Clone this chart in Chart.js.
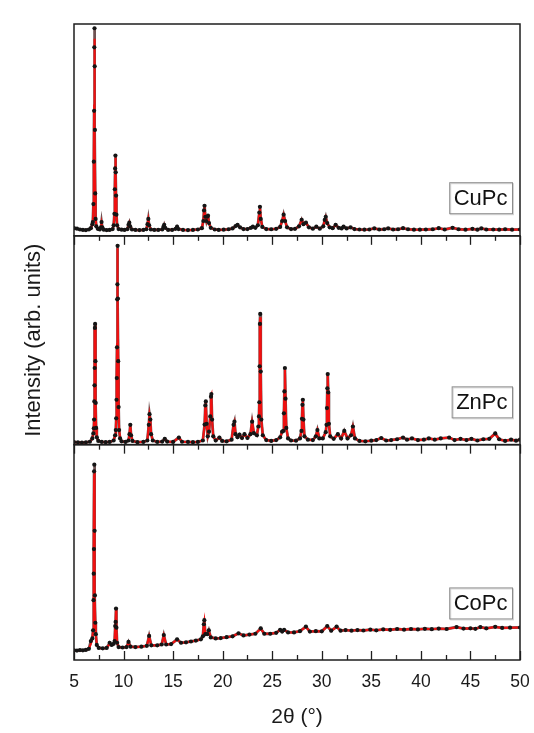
<!DOCTYPE html>
<html>
<head>
<meta charset="utf-8">
<script src="https://cdn.jsdelivr.net/npm/chart.js@4.4.1/dist/chart.umd.min.js"></script>
<style>
  html, body { margin: 0; padding: 0; background: #fff; }
  #wrap { width: 534px; height: 733px; }
</style>
</head>
<body>
<div id="wrap"><canvas id="xrd-chart" width="534" height="733"></canvas></div>
<script>
// 2theta axis
const X_MIN = 5
const X_MAX = 50
const xTickLabels = [5, 10, 15, 20, 25, 30, 35, 40, 45, 50]
const xTickMarks = [5, 7.5, 10, 12.5, 15, 17.5, 20, 22.5, 25, 27.5, 30, 32.5, 35, 37.5, 40, 42.5, 45, 47.5, 50]

const panelNames = ['CuPc', 'ZnPc', 'CoPc']

// CuPc
const cuTheta = [5.0, 5.3, 5.6, 5.9, 6.2, 6.5, 6.7, 6.85, 6.9, 6.96, 7.0, 7.03, 7.05, 7.07, 7.09, 7.11, 7.14, 7.18, 7.25, 7.4,
  7.6, 7.72, 7.78, 7.85, 8.0, 8.3, 8.6, 8.9, 9.0, 9.08, 9.12, 9.15, 9.18, 9.21, 9.24, 9.28, 9.35, 9.5, 9.8, 10.1,
  10.4, 10.5, 10.58, 10.66, 10.85, 11.2, 11.6, 12.0, 12.3, 12.42, 12.5, 12.58, 12.75, 13.1, 13.5, 13.9, 14.02, 14.1, 14.2, 14.5,
  14.9, 15.25, 15.4, 15.55, 16.0, 16.5, 17.0, 17.5, 17.9, 18.05, 18.12, 18.17, 18.25, 18.35, 18.45, 18.52, 18.62, 18.8, 19.2, 19.6,
  20.1, 20.6, 21.0, 21.3, 21.5, 21.75, 22.1, 22.5, 22.85, 23.05, 23.3, 23.55, 23.7, 23.76, 23.84, 24.0, 24.4, 24.9, 25.4, 25.8,
  26.0, 26.15, 26.3, 26.5, 26.9, 27.3, 27.7, 27.97, 28.15, 28.4, 28.7, 29.1, 29.45, 29.8, 30.15, 30.3, 30.4, 30.55, 30.8, 31.1,
  31.4, 31.7, 32.0, 32.2, 32.5, 32.9, 33.3, 33.8, 34.3, 34.8, 35.3, 35.8, 36.3, 36.7, 37.2, 37.7, 38.2, 38.7, 39.3, 39.9,
  40.5, 41.2, 41.8, 42.4, 43.2, 43.8, 44.5, 45.2, 45.7, 46.1, 46.6, 47.3, 47.9, 48.5, 49.2, 50.0]
const cuObs = [3.6, 3.4, 3.0, 2.8, 2.7, 3.0, 3.6, 5.5, 6.5, 15, 35, 59, 89, 98, 80, 50, 20, 8, 4.5, 3.3,
  3.0, 4.0, 6.5, 4.0, 2.9, 2.7, 2.8, 3.2, 5, 10.4, 22, 31.8, 37.9, 30, 19, 10, 5, 3.2, 2.9, 2.8,
  3.2, 5.2, 6.2, 4.5, 3.0, 2.8, 2.7, 2.8, 3.1, 5.5, 8, 5, 3.0, 2.8, 2.8, 3.0, 4.2, 5.2, 3.8, 2.8,
  2.8, 3.3, 4.3, 3.2, 2.8, 2.7, 2.8, 3.0, 3.6, 7, 12, 14.2, 9, 7, 9, 9.5, 6, 3.8, 3.0, 2.8,
  2.9, 3.1, 3.5, 4.6, 5.2, 4.0, 3.2, 3.2, 3.8, 4.3, 3.8, 5.0, 11, 13.7, 8, 4.2, 3.2, 3.1, 3.3, 4.2,
  7, 10, 7, 4.0, 3.2, 3.3, 4.5, 7.6, 5.5, 6.2, 4.0, 3.4, 4.3, 3.4, 4.5, 7.5, 9, 6, 4.0, 3.6,
  5.2, 3.8, 3.5, 4.3, 3.5, 4.0, 3.2, 3.0, 2.9, 3.0, 3.5, 3.0, 3.1, 3.5, 3.0, 3.1, 3.6, 3.1, 2.9, 2.9,
  3.0, 3.1, 3.6, 3.0, 3.8, 3.1, 2.9, 3.3, 2.9, 3.5, 3.0, 3.0, 2.9, 3.1, 2.9, 3.0]
const cuCalc = [3.5, 3.3, 3.0, 2.8, 2.7, 3.0, 3.6, 5.3, 6.2, 14, 36, 62, 88, 93, 82, 48, 21, 9, 4.6, 3.2,
  3.0, 4.0, 6.0, 4.0, 2.9, 2.7, 2.8, 3.2, 5, 10, 21, 33, 37, 31, 19.5, 10, 5.2, 3.2, 2.9, 2.8,
  3.2, 5.0, 6.1, 4.6, 3.0, 2.8, 2.7, 2.8, 3.1, 5.5, 7.8, 5.2, 3.0, 2.8, 2.8, 3.0, 4.2, 5.1, 3.8, 2.8,
  2.8, 3.3, 4.2, 3.2, 2.8, 2.7, 2.8, 3.0, 3.6, 7, 11.5, 14, 9.5, 7.2, 9.3, 9.6, 6, 3.8, 3.0, 2.8,
  2.9, 3.1, 3.5, 4.6, 5.2, 4.0, 3.2, 3.2, 3.8, 4.3, 3.8, 5.0, 11, 13.3, 8.5, 4.2, 3.2, 3.1, 3.3, 4.2,
  7, 9.8, 7, 4.0, 3.2, 3.3, 4.5, 7.5, 5.6, 6.1, 4.0, 3.4, 4.3, 3.4, 4.5, 7.5, 8.8, 6.1, 4.0, 3.6,
  5.1, 3.8, 3.5, 4.3, 3.5, 4.0, 3.2, 3.0, 2.9, 3.0, 3.5, 3.0, 3.1, 3.5, 3.0, 3.1, 3.6, 3.1, 2.9, 2.9,
  3.0, 3.1, 3.6, 3.0, 3.8, 3.1, 2.9, 3.3, 2.9, 3.5, 3.0, 3.0, 2.9, 3.1, 2.9, 3.0]

// ZnPc
const znTheta = [5.0, 5.4, 5.8, 6.2, 6.6, 6.85, 6.95, 7.0, 7.03, 7.05, 7.07, 7.09, 7.11, 7.13, 7.16, 7.19, 7.23, 7.3, 7.45, 7.8,
  8.2, 8.6, 9.0, 9.15, 9.22, 9.26, 9.29, 9.32, 9.34, 9.36, 9.38, 9.40, 9.43, 9.46, 9.5, 9.55, 9.65, 9.8, 10.2, 10.5,
  10.6, 10.68, 10.76, 10.9, 11.4, 12.0, 12.4, 12.55, 12.62, 12.7, 12.78, 12.95, 13.4, 13.9, 14.16, 14.4, 15.0, 15.58, 15.9, 16.5,
  17.0, 17.5, 18.0, 18.18, 18.25, 18.3, 18.38, 18.5, 18.62, 18.75, 18.82, 18.86, 18.93, 19.05, 19.3, 19.67, 19.95, 20.4, 20.9, 21.1,
  21.19, 21.3, 21.5, 21.7, 21.95, 22.2, 22.5, 22.8, 22.97, 23.15, 23.45, 23.6, 23.66, 23.7, 23.73, 23.76, 23.79, 23.84, 23.9, 24.05,
  24.4, 24.9, 25.4, 25.8, 26.0, 26.12, 26.18, 26.23, 26.28, 26.34, 26.42, 26.6, 26.9, 27.4, 27.8, 27.95, 28.0, 28.05, 28.09, 28.15,
  28.25, 28.6, 29.1, 29.4, 29.56, 29.75, 30.1, 30.4, 30.48, 30.52, 30.56, 30.6, 30.65, 30.72, 30.85, 31.2, 31.62, 31.95, 32.27, 32.6,
  32.95, 33.14, 33.35, 33.8, 34.4, 35.0, 35.5, 36.0, 36.5, 37.0, 37.6, 38.2, 38.6, 39.1, 39.7, 40.3, 40.8, 41.4, 42.0, 42.85,
  43.4, 44.0, 44.6, 45.1, 45.7, 46.3, 46.9, 47.5, 47.9, 48.5, 49.1, 49.6, 50.0]
const znObs = [1.2, 1.1, 1.0, 1.1, 1.4, 3, 5.4, 7.8, 12, 20.7, 28.4, 36.7, 55.9, 57.8, 40, 20, 8, 3.5, 1.8, 1.3,
  1.2, 1.3, 2.0, 4.5, 7, 12.6, 21.5, 31.9, 46.6, 69.6, 76.8, 95.2, 70, 40, 18, 7, 3, 1.6, 1.3, 2,
  5, 9.5, 4.5, 1.8, 1.2, 1.3, 2, 9.5, 14.6, 12, 5, 2, 1.3, 1.5, 2.8, 1.5, 1.3, 3.4, 1.4, 1.3,
  1.2, 1.3, 2, 9.6, 18.8, 20.7, 10, 4, 6.2, 13.5, 23, 24.2, 12, 4, 2, 3.4, 1.8, 1.6, 2.4, 9.5,
  11, 5, 3.6, 4.8, 3.2, 5, 3.2, 5, 11, 5.5, 4.5, 8.7, 13.5, 20.3, 37.5, 57.8, 62.6, 35, 12, 4.5,
  2.2, 1.8, 2.2, 3.5, 6.2, 6.6, 15, 25.5, 36.7, 22, 8, 3, 2, 1.9, 3, 6.6, 12.4, 19.1, 21.5, 12,
  4, 2.4, 2.2, 4, 7, 3, 3, 6, 9.5, 17.5, 27, 33.8, 25, 10, 4, 2.8, 5, 3, 6.6, 3,
  4.5, 8.7, 3, 1.8, 1.6, 1.9, 2.2, 3.2, 2.0, 2.2, 2.6, 3.4, 2.4, 3.0, 2.2, 2.4, 3.0, 2.4, 3.0, 3.4,
  2.2, 2.8, 2.2, 2.8, 2.0, 2.6, 2.8, 5.4, 2.6, 1.8, 2.4, 1.9, 2.4]
const znCalc = [1.2, 1.1, 1.0, 1.1, 1.4, 3, 5.6, 8, 12.5, 21, 30, 38, 55, 57, 41, 21, 8.5, 3.6, 1.8, 1.3,
  1.2, 1.3, 2.0, 4.5, 7.5, 13, 22, 33, 48, 70, 80, 94, 72, 41, 18, 7.4, 3.2, 1.6, 1.3, 2,
  5, 9.3, 4.6, 1.8, 1.2, 1.3, 2, 9.6, 14.2, 12, 5.2, 2, 1.3, 1.5, 2.7, 1.5, 1.3, 3.3, 1.4, 1.3,
  1.2, 1.3, 2, 9.5, 18.5, 20.5, 10.2, 4, 6, 13.5, 23.5, 24, 12, 4, 2, 3.3, 1.8, 1.6, 2.4, 9.4,
  10.8, 5.1, 3.6, 4.7, 3.2, 4.9, 3.2, 5, 10.8, 5.6, 4.5, 8.8, 13.5, 20.5, 38, 57, 61, 36, 12, 4.5,
  2.2, 1.8, 2.2, 3.5, 6.2, 6.6, 15, 26, 36, 22, 8, 3, 2, 1.9, 3, 6.6, 12.5, 19, 21, 12,
  4, 2.4, 2.2, 4, 6.9, 3, 3, 6, 9.5, 17.5, 27, 33.5, 25, 10, 4, 2.8, 5, 3, 6.4, 3,
  4.5, 8.5, 3, 1.8, 1.6, 1.9, 2.2, 3.2, 2.0, 2.2, 2.6, 3.4, 2.4, 3.0, 2.2, 2.4, 3.0, 2.4, 3.0, 3.4,
  2.2, 2.8, 2.2, 2.8, 2.0, 2.6, 2.8, 5.2, 2.6, 1.8, 2.4, 1.9, 2.4]

// CoPc
const coTheta = [5.0, 5.3, 5.6, 5.9, 6.2, 6.5, 6.7, 6.85, 6.93, 6.97, 6.99, 7.01, 7.03, 7.05, 7.08, 7.11, 7.15, 7.2, 7.3, 7.5,
  7.9, 8.3, 8.6, 8.8, 9.0, 9.1, 9.16, 9.2, 9.24, 9.28, 9.35, 9.5, 9.9, 10.3, 10.5, 10.7, 11.2, 11.8, 12.35, 12.58,
  12.8, 13.4, 13.85, 14.06, 14.3, 14.8, 15.4, 15.8, 16.3, 16.8, 17.3, 17.8, 18.0, 18.1, 18.15, 18.25, 18.45, 18.6, 18.8, 19.3,
  19.8, 20.4, 21.0, 21.6, 22.1, 22.7, 23.3, 23.84, 24.2, 24.8, 25.4, 25.8, 26.0, 26.2, 26.6, 27.2, 27.8, 28.4, 28.8, 29.4,
  30.0, 30.55, 30.95, 31.5, 31.9, 32.4, 33.0, 33.6, 34.2, 34.9, 35.5, 36.2, 36.9, 37.6, 38.3, 39.0, 39.7, 40.4, 41.1, 41.8,
  42.6, 43.6, 44.3, 45.0, 45.5, 46.0, 46.6, 47.5, 48.2, 49.0, 50.0]
const coObs = [4.5, 4.4, 4.6, 4.5, 4.7, 5.2, 8.8, 10, 13.8, 27.8, 40.1, 51.5, 87.6, 90.7, 60, 30, 17.3, 12, 7, 5.6,
  5.4, 5.6, 8, 7, 7.5, 8.8, 15.8, 17.7, 23.9, 15, 8, 6, 5.8, 6.0, 8.4, 6.2, 6.0, 6.2, 6.6, 11.2,
  6.8, 6.8, 7.2, 11.6, 7.2, 7.4, 9.6, 8, 8.2, 8.6, 9, 9.6, 11, 16.6, 18.5, 12, 12, 13.8, 10.5, 10,
  10.2, 10.6, 11, 12.4, 11.4, 11.8, 12.2, 14.7, 12.2, 12.2, 12.6, 14, 13.2, 14, 12.8, 12.8, 13.4, 15.5, 13.2, 13.4,
  13.3, 15.8, 13.6, 15.5, 13.6, 13.9, 13.6, 13.9, 13.7, 14.1, 13.8, 14.2, 14, 14.4, 14.1, 14.4, 14.2, 14.5, 14.3, 14.6,
  14.4, 15.3, 14.6, 14.7, 14.5, 15.3, 14.7, 15.4, 14.9, 15, 15.1]
const coCalc = [4.5, 4.4, 4.6, 4.5, 4.7, 5.2, 7.5, 10, 14, 28, 41, 52, 86, 88, 61, 30, 17, 12, 7, 5.6,
  5.4, 5.6, 7.5, 7, 7.5, 9, 16, 18, 23.5, 15, 8, 6, 5.8, 6.0, 8.2, 6.2, 6.0, 6.2, 6.6, 11,
  6.8, 6.8, 7.2, 11.4, 7.2, 7.4, 9.5, 8, 8.2, 8.6, 9, 9.6, 11, 16.5, 18, 12, 12, 13.6, 10.5, 10,
  10.2, 10.6, 11, 12.3, 11.4, 11.8, 12.2, 14.5, 12.2, 12.2, 12.6, 14, 13.2, 14, 12.8, 12.8, 13.4, 15.4, 13.2, 13.4,
  13.3, 15.6, 13.6, 15.3, 13.6, 13.9, 13.6, 13.9, 13.7, 14.1, 13.8, 14.2, 14, 14.4, 14.1, 14.4, 14.2, 14.5, 14.3, 14.6,
  14.4, 15.2, 14.6, 14.7, 14.5, 15.2, 14.7, 15.3, 14.9, 15, 15.1]

// where each sample name box sits, in the panel's own y units
const labelLevels = [18, 20.5, 26.5]
const panelWeights = [211.5, 208.5, 215]

const FONT = "'Liberation Sans', Arial, Helvetica, sans-serif"

function pointsOf(theta, values) {
  return theta.map((t, i) => ({ x: t, y: values[i] }))
}

function panelDatasets(axisId, theta, obs, calc) {
  return [
    {
      // faint dark trace under the fit, thickens the baseline a little
      label: axisId + ' obs trace',
      data: pointsOf(theta, obs),
      yAxisID: axisId,
      borderColor: 'rgba(50, 10, 10, 0.7)',
      borderWidth: 2.8,
      pointRadius: 0,
      tension: 0,
      order: 3
    },
    {
      label: axisId + ' calc',
      data: pointsOf(theta, calc),
      yAxisID: axisId,
      borderColor: '#f01010',
      borderWidth: 2.1,
      pointRadius: 0,
      tension: 0,
      order: 2
    },
    {
      label: axisId + ' obs',
      data: pointsOf(theta, obs),
      yAxisID: axisId,
      showLine: false,
      pointRadius: 2.1,
      pointBackgroundColor: '#151515',
      pointBorderColor: '#151515',
      pointBorderWidth: 0,
      order: 1
    }
  ]
}

function panelAxis(weight, withTitle) {
  return {
    type: 'linear',
    position: 'left',
    stack: 'xrd',
    stackWeight: weight,
    min: 0,
    max: 100,
    grid: { display: false, drawTicks: false },
    border: { display: false },
    ticks: { display: false },
    title: {
      display: withTitle,
      text: 'Intensity (arb. units)',
      color: '#1a1a1a',
      font: { family: FONT, size: 22 },
      padding: { top: 21, bottom: 0 }
    },
    afterFit: (scale) => { scale.width = 74 }
  }
}

const framePlugin = {
  id: 'framePlugin',
  afterDatasetsDraw(chart) {
    const ctx = chart.ctx
    const area = chart.chartArea
    const xs = chart.scales.x
    const panels = ['yCu', 'yZn', 'yCo'].map(id => chart.scales[id])
    ctx.save()
    ctx.strokeStyle = '#1e1e1e'
    ctx.lineWidth = 1.5
    panels.forEach((s) => {
      ctx.strokeRect(area.left, s.top, area.right - area.left, s.bottom - s.top)
    })
    // tick marks: pointing down under each inner border, pointing up on the bottom axis
    ctx.lineWidth = 1.3
    const edges = [
      { y: panels[0].bottom, dir: 1 },
      { y: panels[1].bottom, dir: 1 },
      { y: panels[2].bottom, dir: -1 }
    ]
    edges.forEach(edge => {
      xTickMarks.forEach(v => {
        const px = Math.round(xs.getPixelForValue(v)) + 0.5
        const len = v % 5 === 0 ? 9 : 5
        ctx.beginPath()
        ctx.moveTo(px, edge.y)
        ctx.lineTo(px, edge.y + edge.dir * len)
        ctx.stroke()
      })
    })
    // sample name boxes
    ctx.font = '22px ' + FONT
    ctx.textBaseline = 'middle'
    panels.forEach((s, i) => {
      const name = panelNames[i]
      const w = ctx.measureText(name).width + 9
      const h = 31
      const cy = s.getPixelForValue(labelLevels[i])
      const right = area.right - 8
      const left = right - w
      const top = cy - h / 2
      ctx.fillStyle = '#ffffff'
      ctx.fillRect(left, top, w, h)
      ctx.strokeStyle = '#d4d4d4'
      ctx.lineWidth = 1
      ctx.strokeRect(left + 1.5, top + 1.5, w, h)
      ctx.strokeStyle = '#8c8c8c'
      ctx.strokeRect(left + 0.5, top + 0.5, w, h)
      ctx.fillStyle = '#111'
      ctx.fillText(name, left + 4.5, cy + 1.5)
    })
    ctx.restore()
  }
}

const chart = new Chart(document.getElementById('xrd-chart'), {
  type: 'line',
  data: {
    datasets: [
      ...panelDatasets('yCu', cuTheta, cuObs, cuCalc),
      ...panelDatasets('yZn', znTheta, znObs, znCalc),
      ...panelDatasets('yCo', coTheta, coObs, coCalc)
    ]
  },
  options: {
    responsive: false,
    animation: false,
    devicePixelRatio: 1,
    layout: { padding: { top: 24, right: 14, left: 0, bottom: 0 } },
    plugins: {
      legend: { display: false },
      tooltip: { enabled: false }
    },
    scales: {
      x: {
        type: 'linear',
        min: X_MIN,
        max: X_MAX,
        grid: { display: false, drawTicks: false },
        border: { display: false },
        afterBuildTicks: (scale) => {
          scale.ticks = xTickLabels.map(v => ({ value: v }))
        },
        ticks: {
          autoSkip: false,
          maxRotation: 0,
          padding: 12,
          color: '#1a1a1a',
          font: { family: FONT, size: 17.5 }
        },
        title: {
          display: true,
          text: '2θ (°)',
          color: '#1a1a1a',
          font: { family: FONT, size: 21 },
          padding: { top: 0, bottom: 3 }
        },
        afterFit: (scale) => {
          scale.height = 73
          // the end labels may hang past the frame, as in the original
          scale.paddingLeft = 0
          scale.paddingRight = 0
        }
      },
      // stacked panels are laid out bottom-up
      yCo: panelAxis(panelWeights[2], false),
      yZn: panelAxis(panelWeights[1], true),
      yCu: panelAxis(panelWeights[0], false)
    }
  },
  plugins: [framePlugin]
})
</script>
</body>
</html>
